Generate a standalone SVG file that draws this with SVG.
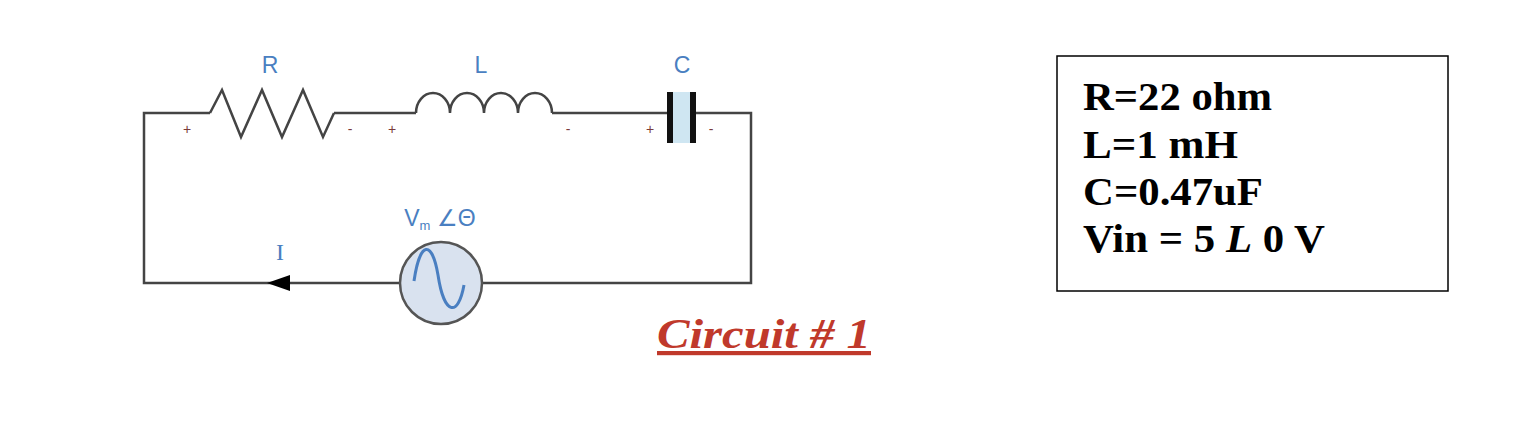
<svg xmlns="http://www.w3.org/2000/svg" width="1540" height="444" viewBox="0 0 1540 444">
<style>
.w{fill:none;stroke:#444;stroke-width:2.5}
.lb{font-family:"Liberation Sans",Arial,sans-serif;fill:#4a7fc1;font-size:23px;text-anchor:middle}
.pm{font-family:"Liberation Sans",Arial,sans-serif;fill:#7a3a3a;font-size:14px;text-anchor:middle}
.v{font-family:"Liberation Serif","Times New Roman",serif;font-weight:bold;font-size:39px;fill:#000}
</style>
<rect width="1540" height="444" fill="#fff"/>
<g id="connectors">
<path class="w" d="M210 113H144V283H400M482 283H751V113H695M672 113H552M416 113H334"/>
<path d="M267 283L290 275V291Z" fill="#000"/>
</g>
<g id="resistor">
<path class="w" d="M210 113L222 90L241 137L262 90L282 137L303 90L323 137L334 113"/>
<text class="lb" x="270" y="73">R</text>
<text class="pm" x="187" y="134">+</text><text class="pm" x="350" y="134">-</text>
</g>
<g id="inductor">
<path class="w" d="M416 113A17 20 0 0 1 450 113A17 20 0 0 1 484 113A17 20 0 0 1 518 113A17 20 0 0 1 552 113"/>
<text class="lb" x="481" y="73">L</text>
<text class="pm" x="392" y="134">+</text><text class="pm" x="568" y="134">-</text>
</g>
<g id="capacitor">
<rect x="672" y="92" width="23" height="51" fill="#cfe6f2"/>
<rect x="667" y="92" width="6" height="51" fill="#111"/>
<rect x="690" y="92" width="6" height="51" fill="#111"/>
<text class="lb" x="682" y="73">C</text>
<text class="pm" x="650" y="134">+</text><text class="pm" x="711" y="134">-</text>
</g>
<g id="source">
<circle cx="441" cy="283" r="41" fill="#d9e2ef" stroke="#555" stroke-width="2.5"/>
<path d="M414 281C420 240 432 240 438 275C444 315 458 318 464 285" fill="none" stroke="#4a7fc1" stroke-width="3"/>
<text class="lb" x="440" y="226">V<tspan font-size="13" dy="4">m</tspan><tspan dy="-4"> ∠Θ</tspan></text>
<text x="280" y="260" font-family="Liberation Serif,serif" font-size="24" fill="#4a7fc1" text-anchor="middle">I</text>
</g>
<g id="params">
<rect x="1057" y="56" width="391" height="235" fill="#fff" stroke="#000" stroke-width="1.5"/>
<text class="v" x="1083" y="110" textLength="189" lengthAdjust="spacingAndGlyphs">R=22 ohm</text>
<text class="v" x="1083" y="158" textLength="155" lengthAdjust="spacingAndGlyphs">L=1 mH</text>
<text class="v" x="1083" y="205" textLength="180" lengthAdjust="spacingAndGlyphs">C=0.47uF</text>
<text class="v" x="1083" y="252" textLength="242" lengthAdjust="spacingAndGlyphs">Vin = 5 <tspan font-style="italic">L</tspan> 0 V</text>
</g>
<g id="title">
<text x="657" y="348" font-family="Liberation Serif,serif" font-weight="bold" font-style="italic" font-size="42" fill="#c0392b" text-decoration="underline" textLength="214" lengthAdjust="spacingAndGlyphs">Circuit # 1</text>
</g>
</svg>
